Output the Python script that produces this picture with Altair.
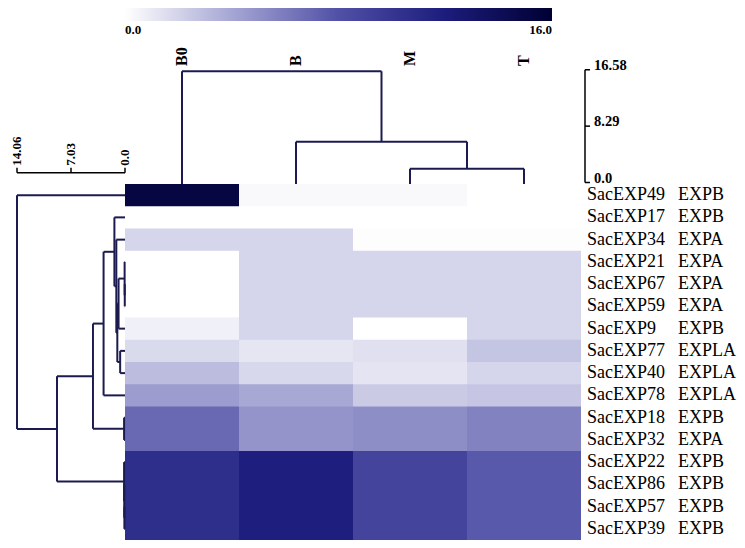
import altair as alt
import pandas as pd

# ---------------- data ----------------
conditions = ["B0", "B", "M", "T"]
genes = ["SacEXP49", "SacEXP17", "SacEXP34", "SacEXP21", "SacEXP67", "SacEXP59",
         "SacEXP9", "SacEXP77", "SacEXP40", "SacEXP78", "SacEXP18", "SacEXP32",
         "SacEXP22", "SacEXP86", "SacEXP57", "SacEXP39"]
families = ["EXPB", "EXPB", "EXPA", "EXPA", "EXPA", "EXPA", "EXPB", "EXPLA",
            "EXPLA", "EXPLA", "EXPB", "EXPA", "EXPB", "EXPB", "EXPB", "EXPB"]
val_B0 = [15.2, 0.0, 1.9, 0.0, 0.0, 0.0, 0.67, 1.66, 3.0, 4.47, 6.9, 6.9, 10.6, 10.6, 10.6, 10.6]
val_B = [0.25, 0.0, 1.9, 1.9, 1.9, 1.9, 1.9, 1.12, 1.75, 3.9, 4.84, 4.84, 11.85, 11.85, 11.85, 11.85]
val_M = [0.25, 0.0, 0.08, 1.9, 1.9, 1.9, 0.0, 1.4, 1.2, 2.4, 5.1, 5.1, 8.9, 8.9, 8.9, 8.9]
val_T = [0.0, 0.0, 0.08, 1.9, 1.9, 1.9, 1.9, 2.65, 1.9, 2.55, 5.67, 5.67, 7.6, 7.6, 7.6, 7.6]

# linkage lists: (child a, child b, merge height); new node ids continue after leaves
row_link = [
    (4, 5, 0.03), (3, 16, 0.05), (17, 6, 0.84), (7, 8, 0.63), (18, 19, 1.00),
    (2, 20, 1.13), (1, 21, 1.38), (22, 9, 2.79), (10, 11, 0.12), (23, 24, 4.17),
    (14, 15, 0.08), (13, 26, 0.10), (12, 27, 0.12), (25, 28, 8.85), (0, 29, 14.06),
]
col_link = [(2, 3, 2.26), (1, 4, 6.2), (0, 5, 16.58)]

row_scale_ticks = [0.0, 7.03, 14.06]
row_scale_labels = ["0.0", "7.03", "14.06"]
col_scale_ticks = [0.0, 8.29, 16.58]
col_scale_labels = ["0.0", "8.29", "16.58"]
color_ticks = [0.0, 16.0]

# ---------------- layout ----------------
W, H = 729, 532
heat_left, cell_w = 117, 114
heat_top = 176
row_h = (H - heat_top) / len(genes)
rpx = (heat_left - 9) / row_scale_ticks[-1]   # px per unit of row-dendrogram height
cpx = 6.8                                      # px per unit of column-dendrogram height
overlap = 0.7                                  # hides anti-alias seams between cells
line_col = "#1b1b50"
serif = "Liberation Serif"

xs = alt.Scale(domain=[0, W], nice=False, zero=False)
ys = alt.Scale(domain=[0, H], nice=False, zero=False, reverse=True)

# heatmap table
vals = [val_B0, val_B, val_M, val_T]
n_r, n_c = len(genes), len(conditions)
rows = []
for ci, cname in enumerate(conditions):
    for ri, g in enumerate(genes):
        rows.append(dict(gene=g, cond=cname, value=vals[ci][ri],
                         x=heat_left + ci * cell_w,
                         x2=heat_left + (ci + 1) * cell_w + (overlap if ci < n_c - 1 else 0),
                         y=heat_top + ri * row_h,
                         y2=heat_top + (ri + 1) * row_h + (overlap if ri < n_r - 1 else 0)))
heat_df = pd.DataFrame(rows)


def dendro_segments(link, n):
    pos = {i: float(i) for i in range(n)}
    hgt = {i: 0.0 for i in range(n)}
    segs = []
    for k, (a, b, h) in enumerate(link):
        nid = n + k
        segs.append((pos[a], h, pos[b], h))       # cross bar
        segs.append((pos[a], hgt[a], pos[a], h))  # leg a
        segs.append((pos[b], hgt[b], pos[b], h))  # leg b
        pos[nid] = (pos[a] + pos[b]) / 2
        hgt[nid] = h
    return segs


seg_rows = []
for p1, h1, p2, h2 in dendro_segments(row_link, n_r):
    seg_rows.append(dict(x=heat_left - h1 * rpx, x2=heat_left - h2 * rpx,
                         y=heat_top + (p1 + 0.5) * row_h, y2=heat_top + (p2 + 0.5) * row_h))
for p1, h1, p2, h2 in dendro_segments(col_link, n_c):
    seg_rows.append(dict(x=heat_left + (p1 + 0.5) * cell_w, x2=heat_left + (p2 + 0.5) * cell_w,
                         y=heat_top - h1 * cpx, y2=heat_top - h2 * cpx))
dendro_df = pd.DataFrame(seg_rows)

# scale bars
bar_y = 164.7          # horizontal bar of the row-dendrogram scale
bar_x = 577            # vertical bar of the column-dendrogram scale
bar_base = heat_top - 1.5
sb = [dict(x=heat_left - row_scale_ticks[-1] * rpx, x2=heat_left, y=bar_y, y2=bar_y)]
for t in row_scale_ticks:
    sb.append(dict(x=heat_left - t * rpx, x2=heat_left - t * rpx, y=bar_y, y2=bar_y - 5))
sb.append(dict(x=bar_x, x2=bar_x, y=bar_base, y2=bar_base - col_scale_ticks[-1] * cpx))
for t in col_scale_ticks:
    sb.append(dict(x=bar_x, x2=bar_x + 5, y=bar_base - t * cpx, y2=bar_base - t * cpx))
sb_df = pd.DataFrame(sb)

row_tick_df = pd.DataFrame(dict(x=[heat_left - t * rpx for t in row_scale_ticks],
                                y=[bar_y - 7] * 3, label=row_scale_labels))
col_tick_df = pd.DataFrame(dict(x=[bar_x + 9] * 3,
                                y=[bar_base - t * cpx for t in col_scale_ticks],
                                label=col_scale_labels))
label_df = pd.DataFrame(dict(gene=genes, fam=families,
                             y=[heat_top + (i + 0.5) * row_h for i in range(n_r)]))
cond_df = pd.DataFrame(dict(cond=conditions,
                            x=[heat_left + (i + 0.5) * cell_w for i in range(n_c)]))

color_scale = alt.Scale(domain=[0, 4, 8, 12, 16], interpolate="rgb",
                        range=["#ffffff", "#a6a6d4", "#5050a6", "#1c1c7c", "#000033"])

heat = alt.Chart(heat_df).mark_rect(strokeWidth=0).encode(
    x=alt.X("x:Q", scale=xs, axis=None), x2="x2:Q",
    y=alt.Y("y:Q", scale=ys, axis=None), y2="y2:Q",
    color=alt.Color("value:Q", scale=color_scale,
                    legend=alt.Legend(orient="none", legendX=heat_left, legendY=0,
                                      direction="horizontal", title=None,
                                      gradientLength=427, gradientThickness=13,
                                      gradientStrokeWidth=0, values=color_ticks,
                                      format=".1f", labelFont=serif, labelFontWeight="bold",
                                      labelFontSize=13, labelColor="black", labelOffset=3,
                                      padding=0)),
)

dendro = alt.Chart(dendro_df).mark_rule(color=line_col, strokeWidth=2).encode(
    x=alt.X("x:Q", scale=xs, axis=None), x2="x2:Q",
    y=alt.Y("y:Q", scale=ys, axis=None), y2="y2:Q")

bars = alt.Chart(sb_df).mark_rule(color="black", strokeWidth=1.5).encode(
    x=alt.X("x:Q", scale=xs, axis=None), x2="x2:Q",
    y=alt.Y("y:Q", scale=ys, axis=None), y2="y2:Q")

row_tick_txt = alt.Chart(row_tick_df).mark_text(
    angle=270, align="left", baseline="middle", font=serif, fontWeight="bold",
    fontSize=13, color="black").encode(
    x=alt.X("x:Q", scale=xs, axis=None), y=alt.Y("y:Q", scale=ys, axis=None), text="label:N")

col_tick_txt = alt.Chart(col_tick_df).mark_text(
    align="left", baseline="alphabetic", font=serif, fontWeight="bold",
    fontSize=14.5, color="black").encode(
    x=alt.X("x:Q", scale=xs, axis=None), y=alt.Y("y:Q", scale=ys, axis=None), text="label:N")

gene_txt = alt.Chart(label_df).mark_text(
    align="left", baseline="middle", font=serif, fontSize=18, color="black").encode(
    x=alt.value(579), y=alt.Y("y:Q", scale=ys, axis=None), text="gene:N")

fam_txt = alt.Chart(label_df).mark_text(
    align="left", baseline="middle", font=serif, fontSize=18, color="black").encode(
    x=alt.value(670), y=alt.Y("y:Q", scale=ys, axis=None), text="fam:N")

cond_txt = alt.Chart(cond_df).mark_text(
    angle=270, align="left", baseline="middle", font=serif, fontWeight="bold",
    fontSize=16, color="black").encode(
    x=alt.X("x:Q", scale=xs, axis=None), y=alt.value(58), text="cond:N")

chart = alt.layer(heat, dendro, bars, row_tick_txt, col_tick_txt, gene_txt, fam_txt, cond_txt).properties(
    width=W, height=H, autosize=alt.AutoSizeParams(type="none"), padding=0
).configure_view(strokeWidth=0)

chart.save("out.html", embed_options={"renderer": "svg", "actions": False})
